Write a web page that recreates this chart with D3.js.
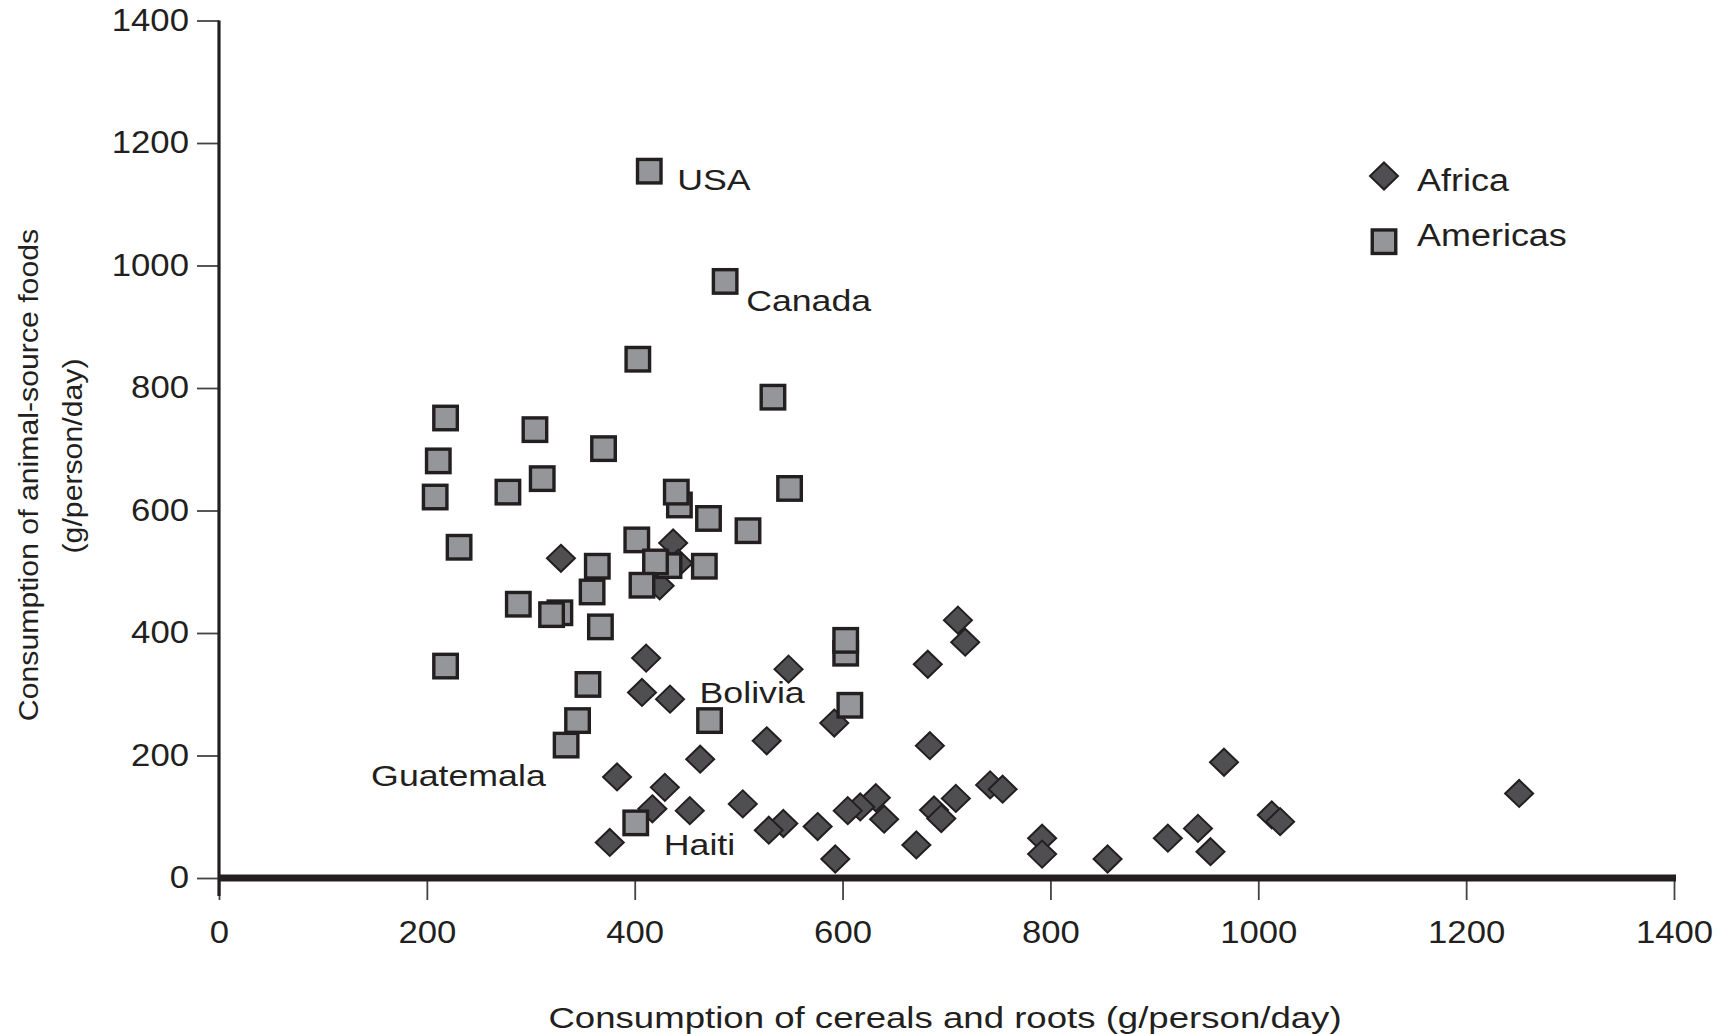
<!DOCTYPE html>
<html>
<head>
<meta charset="utf-8">
<script src="https://cdn.jsdelivr.net/npm/d3@7"></script>
<style>
  body { margin: 0; background: #fff; }
  text { font-family: "Liberation Sans", Arial, sans-serif; fill: #231f20; }
</style>
</head>
<body>
<svg id="chart"></svg>
<script>
// values (g/person/day)
var xTicks = [0, 200, 400, 600, 800, 1000, 1200, 1400];
var yTicks = [0, 200, 400, 600, 800, 1000, 1200, 1400];
var groups = ["Africa", "Americas"];

// [cereals and roots, animal-source foods]
var africa = [
  [329, 522], [437, 547], [424, 477], [442, 514], [411, 359], [548, 341],
  [407, 303], [434, 292], [592, 253], [527, 224], [463, 194], [383, 165],
  [429, 148], [417, 113], [453, 110], [504, 121], [543, 89], [529, 78],
  [576, 84], [593, 31], [376, 58], [632, 131], [617, 116], [605, 110],
  [640, 96], [711, 421], [718, 385], [682, 349], [684, 216], [967, 189],
  [1251, 138], [742, 152], [754, 145], [709, 130], [688, 111], [695, 97],
  [671, 54], [792, 65], [792, 39], [855, 31], [913, 65], [942, 81],
  [954, 43], [1013, 103], [1021, 92]
];

var americas = [
  [414, 1154], [487, 974], [403, 847], [533, 785], [218, 751], [304, 732],
  [370, 701], [211, 681], [208, 622], [278, 630], [311, 652], [443, 609],
  [440, 630], [471, 587], [549, 636], [509, 567], [231, 540], [402, 552],
  [433, 510], [420, 516], [467, 509], [364, 509], [407, 478], [359, 467],
  [288, 447], [328, 433], [320, 430], [367, 410], [218, 346], [355, 316],
  [345, 257], [334, 217], [472, 257], [603, 367], [603, 388], [607, 282],
  [401, 90]
];

// named countries: index into americas
var labelNames = ["USA", "Canada", "Bolivia", "Guatemala", "Haiti"];
var labelIndex = [0, 1, 32, 31, 36];
var labelOffset = {
  USA: [28, 19], Canada: [21, 30], Bolivia: [-10, -18],
  Guatemala: [-195, 41], Haiti: [28, 32]
};

var width = 1733, height = 1034;
var sx = 1.12; // the figure's type is a little wider than Arial

var svg = d3.select("#chart")
    .attr("width", width)
    .attr("height", height);

var x = d3.scaleLinear().domain([0, 1400]).range([219, 1674]);
var y = d3.scaleLinear().domain([0, 1400]).range([878, 20.5]);

var dark = "#231f20";

// y axis
var yAxis = svg.append("g")
    .attr("transform", "translate(" + x(0) + ",0)")
    .call(d3.axisLeft(y).tickValues(yTicks).tickFormat(d3.format("d"))
      .tickSize(22).tickPadding(8));
yAxis.select(".domain").remove();
yAxis.selectAll(".tick line").attr("stroke", "#444").attr("stroke-width", 1.8);
yAxis.selectAll(".tick text")
    .attr("x", -30 / sx)
    .attr("transform", "scale(" + sx + ",1)")
    .style("font-size", "31px")
    .attr("fill", dark);

// x axis
var xAxis = svg.append("g")
    .attr("transform", "translate(0," + y(0) + ")")
    .call(d3.axisBottom(x).tickValues(xTicks).tickFormat(d3.format("d"))
      .tickSize(22).tickPadding(21));
xAxis.select(".domain").remove();
xAxis.selectAll(".tick line").attr("stroke", "#444").attr("stroke-width", 1.8);
xAxis.selectAll(".tick text")
    .attr("transform", "scale(" + sx + ",1)")
    .style("font-size", "31px")
    .attr("fill", dark);

svg.append("line")
    .attr("x1", x(0)).attr("x2", x(0))
    .attr("y1", y(1400)).attr("y2", y(0) + 18)
    .attr("stroke", dark).attr("stroke-width", 3.2);

svg.append("line")
    .attr("x1", x(0) - 1).attr("x2", x(1400) + 2)
    .attr("y1", y(0)).attr("y2", y(0))
    .attr("stroke", dark).attr("stroke-width", 7);

// axis titles
svg.append("text")
    .attr("transform", "translate(945,1028) scale(1.22,1)")
    .attr("text-anchor", "middle")
    .style("font-size", "30px")
    .text("Consumption of cereals and roots (g/person/day)");

svg.append("text")
    .attr("transform", "translate(38,475) rotate(-90) scale(" + sx + ",1)")
    .attr("text-anchor", "middle")
    .style("font-size", "27px")
    .text("Consumption of animal-source foods");

svg.append("text")
    .attr("transform", "translate(82,456) rotate(-90) scale(" + sx + ",1)")
    .attr("text-anchor", "middle")
    .style("font-size", "27px")
    .text("(g/person/day)");

// markers
var diamond = "M0,-13.5L14,0L0,13.5L-14,0Z";
var side = 23.5;

function drawDiamond(sel) {
  sel.append("path")
      .attr("d", diamond)
      .attr("fill", "#4f4f51")
      .attr("stroke", dark)
      .attr("stroke-width", 2);
}

function drawSquare(sel) {
  sel.append("rect")
      .attr("x", -side / 2).attr("y", -side / 2)
      .attr("width", side).attr("height", side)
      .attr("fill", "#959699")
      .attr("stroke", dark)
      .attr("stroke-width", 3.4);
}

svg.append("g")
  .selectAll("g")
  .data(africa)
  .enter()
  .append("g")
    .attr("transform", d => "translate(" + x(d[0]) + "," + y(d[1]) + ")")
    .call(drawDiamond);

svg.append("g")
  .selectAll("g")
  .data(americas)
  .enter()
  .append("g")
    .attr("transform", d => "translate(" + x(d[0]) + "," + y(d[1]) + ")")
    .call(drawSquare);

// country names
svg.append("g")
  .selectAll("text")
  .data(labelNames)
  .enter()
  .append("text")
    .attr("transform", (d, i) => {
      var p = americas[labelIndex[i]];
      var o = labelOffset[d];
      return "translate(" + (x(p[0]) + o[0]) + "," + (y(p[1]) + o[1]) + ") scale(1.19,1)";
    })
    .style("font-size", "30px")
    .text(d => d);

// legend
var legend = svg.append("g")
  .selectAll("g")
  .data(groups)
  .enter()
  .append("g");

legend.append("g")
    .attr("transform", (d, i) => "translate(1384," + (176 + i * 65.7) + ")")
    .each(function(d, i) {
      if (i === 0) d3.select(this).call(drawDiamond);
      else d3.select(this).call(drawSquare);
    });

legend.append("text")
    .attr("transform", (d, i) => "translate(1417," + (191 + i * 55) + ") scale(1.16,1)")
    .style("font-size", "31px")
    .text(d => d);
</script>
</body>
</html>
